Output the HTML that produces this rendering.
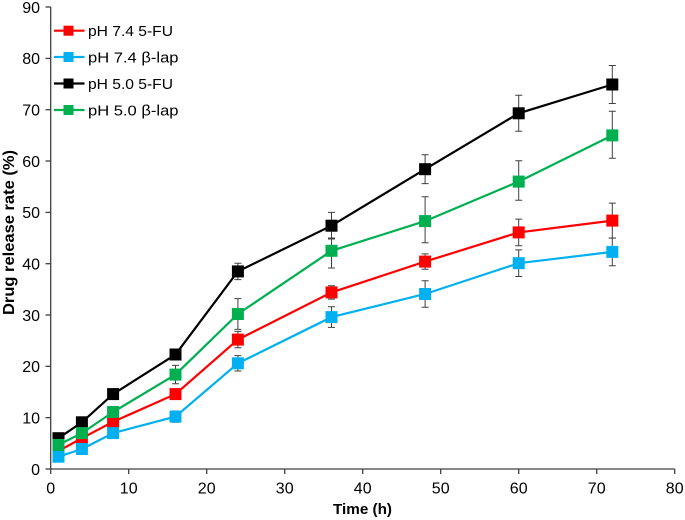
<!DOCTYPE html>
<html><head><meta charset="utf-8">
<style>
html,body{margin:0;padding:0;background:#fff;}
svg{display:block;}
text{font-family:"Liberation Sans",Arial,sans-serif;fill:#000;}
</style></head>
<body>
<svg width="685" height="520" viewBox="0 0 685 520" xmlns="http://www.w3.org/2000/svg">
<rect width="685" height="520" fill="#fff"/>
<!-- axes -->
<g stroke="#404040" stroke-width="1.3" fill="none">
<line x1="50.7" y1="7" x2="50.7" y2="469"/>
<line x1="50.7" y1="469" x2="674.7" y2="469"/>
<!-- y ticks -->
<line x1="45.5" y1="469" x2="50.7" y2="469"/>
<line x1="45.5" y1="417.7" x2="50.7" y2="417.7"/>
<line x1="45.5" y1="366.3" x2="50.7" y2="366.3"/>
<line x1="45.5" y1="315" x2="50.7" y2="315"/>
<line x1="45.5" y1="263.7" x2="50.7" y2="263.7"/>
<line x1="45.5" y1="212.4" x2="50.7" y2="212.4"/>
<line x1="45.5" y1="161" x2="50.7" y2="161"/>
<line x1="45.5" y1="109.7" x2="50.7" y2="109.7"/>
<line x1="45.5" y1="58.4" x2="50.7" y2="58.4"/>
<line x1="45.5" y1="7" x2="50.7" y2="7"/>
<!-- x ticks -->
<line x1="50.7" y1="469" x2="50.7" y2="474"/>
<line x1="128.7" y1="469" x2="128.7" y2="474"/>
<line x1="206.7" y1="469" x2="206.7" y2="474"/>
<line x1="284.7" y1="469" x2="284.7" y2="474"/>
<line x1="362.7" y1="469" x2="362.7" y2="474"/>
<line x1="440.7" y1="469" x2="440.7" y2="474"/>
<line x1="518.7" y1="469" x2="518.7" y2="474"/>
<line x1="596.7" y1="469" x2="596.7" y2="474"/>
<line x1="674.7" y1="469" x2="674.7" y2="474"/>
</g>
<!-- y tick labels -->
<g font-size="16" text-anchor="end">
<text x="40" y="474.8">0</text>
<text x="40" y="423.5">10</text>
<text x="40" y="372.1">20</text>
<text x="40" y="320.8">30</text>
<text x="40" y="269.5">40</text>
<text x="40" y="218.2">50</text>
<text x="40" y="166.8">60</text>
<text x="40" y="115.5">70</text>
<text x="40" y="64.2">80</text>
<text x="40" y="12.8">90</text>
</g>
<!-- x tick labels -->
<g font-size="16" text-anchor="middle">
<text x="50.7" y="493.3">0</text>
<text x="128.7" y="493.3">10</text>
<text x="206.7" y="493.3">20</text>
<text x="284.7" y="493.3">30</text>
<text x="362.7" y="493.3">40</text>
<text x="440.7" y="493.3">50</text>
<text x="518.7" y="493.3">60</text>
<text x="596.7" y="493.3">70</text>
<text x="674.7" y="493.3">80</text>
</g>
<!-- axis titles -->
<text x="362.5" y="514" font-size="15" font-weight="bold" text-anchor="middle" textLength="59" lengthAdjust="spacingAndGlyphs">Time (h)</text>
<text transform="translate(14,232.5) rotate(-90)" font-size="15.5" font-weight="bold" text-anchor="middle" textLength="165" lengthAdjust="spacingAndGlyphs">Drug release rate (%)</text>

<!-- Red series: pH 7.4 5-FU -->
<polyline fill="none" stroke="#FF0000" stroke-width="2.2" points="58.5,451.0 81.9,438.2 113.1,421.8 175.5,394.1 237.9,339.6 331.5,292.4 425.1,261.6 518.7,232.4 612.3,220.6"/>
<g stroke="#404040" stroke-width="1" fill="none">
<path d="M58.5,448.4V453.6M55,448.4H62M55,453.6H62"/>
<path d="M81.9,435.6V440.8M78.4,435.6H85.4M78.4,440.8H85.4"/>
<path d="M113.1,417.7V425.9M109.6,417.7H116.6M109.6,425.9H116.6"/>
<path d="M175.5,389V399.2M172,389H179M172,399.2H179"/>
<path d="M237.9,331.4V347.8M234.4,331.4H241.4M234.4,347.8H241.4"/>
<path d="M331.5,285.7V299.1M328,285.7H335M328,299.1H335"/>
<path d="M425.1,253.9V269.3M421.6,253.9H428.6M421.6,269.3H428.6"/>
<path d="M518.7,219.1V245.7M515.2,219.1H522.2M515.2,245.7H522.2"/>
<path d="M612.3,203.1V238.1M608.8,203.1H615.8M608.8,238.1H615.8"/>
</g>
<g fill="#FF0000">
<rect x="52.5" y="445" width="12" height="12"/>
<rect x="75.9" y="432.2" width="12" height="12"/>
<rect x="107.1" y="415.8" width="12" height="12"/>
<rect x="169.5" y="388.1" width="12" height="12"/>
<rect x="231.9" y="333.6" width="12" height="12"/>
<rect x="325.5" y="286.4" width="12" height="12"/>
<rect x="419.1" y="255.6" width="12" height="12"/>
<rect x="512.7" y="226.4" width="12" height="12"/>
<rect x="606.3" y="214.6" width="12" height="12"/>
</g>

<!-- Blue series: pH 7.4 β-lap -->
<polyline fill="none" stroke="#00B0F0" stroke-width="2.2" points="58.5,456.7 81.9,449.0 113.1,433.1 175.5,416.6 237.9,363.3 331.5,317.1 425.1,294.0 518.7,263.2 612.3,251.9"/>
<g stroke="#404040" stroke-width="1" fill="none">
<path d="M58.5,454.6V458.8M55,454.6H62M55,458.8H62"/>
<path d="M81.9,446.4V451.6M78.4,446.4H85.4M78.4,451.6H85.4"/>
<path d="M113.1,430V436.2M109.6,430H116.6M109.6,436.2H116.6"/>
<path d="M175.5,411V422.2M172,411H179M172,422.2H179"/>
<path d="M237.9,355.6V371M234.4,355.6H241.4M234.4,371H241.4"/>
<path d="M331.5,306.8V327.4M328,306.8H335M328,327.4H335"/>
<path d="M425.1,280.7V307.3M421.6,280.7H428.6M421.6,307.3H428.6"/>
<path d="M518.7,249.9V276.5M515.2,249.9H522.2M515.2,276.5H522.2"/>
<path d="M612.3,238V265.8M608.8,238H615.8M608.8,265.8H615.8"/>
</g>
<g fill="#00B0F0">
<rect x="52.5" y="450.7" width="12" height="12"/>
<rect x="75.9" y="443" width="12" height="12"/>
<rect x="107.1" y="427.1" width="12" height="12"/>
<rect x="169.5" y="410.6" width="12" height="12"/>
<rect x="231.9" y="357.3" width="12" height="12"/>
<rect x="325.5" y="311.1" width="12" height="12"/>
<rect x="419.1" y="288" width="12" height="12"/>
<rect x="512.7" y="257.2" width="12" height="12"/>
<rect x="606.3" y="245.9" width="12" height="12"/>
</g>

<!-- Black series: pH 5.0 5-FU -->
<polyline fill="none" stroke="#000000" stroke-width="2.2" points="58.5,438.2 81.9,422.3 113.1,394.1 175.5,354.5 237.9,271.4 331.5,225.7 425.1,169.2 518.7,113.3 612.3,84.5"/>
<g stroke="#404040" stroke-width="1" fill="none">
<path d="M58.5,436.7V439.7M55,436.7H62M55,439.7H62"/>
<path d="M81.9,419.7V424.9M78.4,419.7H85.4M78.4,424.9H85.4"/>
<path d="M113.1,391.5V396.7M109.6,391.5H116.6M109.6,396.7H116.6"/>
<path d="M175.5,350.4V358.6M172,350.4H179M172,358.6H179"/>
<path d="M237.9,263.2V279.6M234.4,263.2H241.4M234.4,279.6H241.4"/>
<path d="M331.5,212.4V239M328,212.4H335M328,239H335"/>
<path d="M425.1,154.8V183.6M421.6,154.8H428.6M421.6,183.6H428.6"/>
<path d="M518.7,95.3V131.3M515.2,95.3H522.2M515.2,131.3H522.2"/>
<path d="M612.3,65.5V103.5M608.8,65.5H615.8M608.8,103.5H615.8"/>
</g>
<g fill="#000000">
<rect x="52.5" y="432.2" width="12" height="12"/>
<rect x="75.9" y="416.3" width="12" height="12"/>
<rect x="107.1" y="388.1" width="12" height="12"/>
<rect x="169.5" y="348.5" width="12" height="12"/>
<rect x="231.9" y="265.4" width="12" height="12"/>
<rect x="325.5" y="219.7" width="12" height="12"/>
<rect x="419.1" y="163.2" width="12" height="12"/>
<rect x="512.7" y="107.3" width="12" height="12"/>
<rect x="606.3" y="78.5" width="12" height="12"/>
</g>

<!-- Green series: pH 5.0 β-lap -->
<polyline fill="none" stroke="#00B050" stroke-width="2.2" points="58.5,444.9 81.9,433.1 113.1,412.0 175.5,374.6 237.9,314.0 331.5,250.8 425.1,221.1 518.7,181.6 612.3,135.4"/>
<g stroke="#404040" stroke-width="1" fill="none">
<path d="M58.5,442.3V447.5M55,442.3H62M55,447.5H62"/>
<path d="M81.9,429.5V436.7M78.4,429.5H85.4M78.4,436.7H85.4"/>
<path d="M113.1,406.9V417.1M109.6,406.9H116.6M109.6,417.1H116.6"/>
<path d="M175.5,365.4V383.8M172,365.4H179M172,383.8H179"/>
<path d="M237.9,298.6V329.4M234.4,298.6H241.4M234.4,329.4H241.4"/>
<path d="M331.5,238V268M328,238H335M328,268H335"/>
<path d="M425.1,196.7V242.7M421.6,196.7H428.6M421.6,242.7H428.6"/>
<path d="M518.7,160.7V200.3M515.2,160.7H522.2M515.2,200.3H522.2"/>
<path d="M612.3,111.3V158.3M608.8,111.3H615.8M608.8,158.3H615.8"/>
</g>
<g fill="#00B050">
<rect x="52.5" y="438.9" width="12" height="12"/>
<rect x="75.9" y="427.1" width="12" height="12"/>
<rect x="107.1" y="406" width="12" height="12"/>
<rect x="169.5" y="368.6" width="12" height="12"/>
<rect x="231.9" y="308" width="12" height="12"/>
<rect x="325.5" y="244.8" width="12" height="12"/>
<rect x="419.1" y="215.1" width="12" height="12"/>
<rect x="512.7" y="175.6" width="12" height="12"/>
<rect x="606.3" y="129.4" width="12" height="12"/>
</g>

<!-- Legend -->
<g stroke-width="2.2">
<line x1="54" y1="30.7" x2="84.5" y2="30.7" stroke="#FF0000"/>
<line x1="54" y1="57" x2="84.5" y2="57" stroke="#00B0F0"/>
<line x1="54" y1="83.5" x2="84.5" y2="83.5" stroke="#000000"/>
<line x1="54" y1="110" x2="84.5" y2="110" stroke="#00B050"/>
</g>
<rect x="63.5" y="25.7" width="10" height="10" fill="#FF0000"/>
<rect x="63.5" y="52" width="10" height="10" fill="#00B0F0"/>
<rect x="63.5" y="78.5" width="10" height="10" fill="#000000"/>
<rect x="63.5" y="105" width="10" height="10" fill="#00B050"/>
<g font-size="14.5">
<text x="88" y="36" textLength="85" lengthAdjust="spacingAndGlyphs">pH 7.4 5-FU</text>
<text x="88" y="62.3" textLength="90.5" lengthAdjust="spacingAndGlyphs">pH 7.4 β-lap</text>
<text x="88" y="88.8" textLength="85" lengthAdjust="spacingAndGlyphs">pH 5.0 5-FU</text>
<text x="88" y="115.3" textLength="90.5" lengthAdjust="spacingAndGlyphs">pH 5.0 β-lap</text>
</g>
</svg>
</body></html>
